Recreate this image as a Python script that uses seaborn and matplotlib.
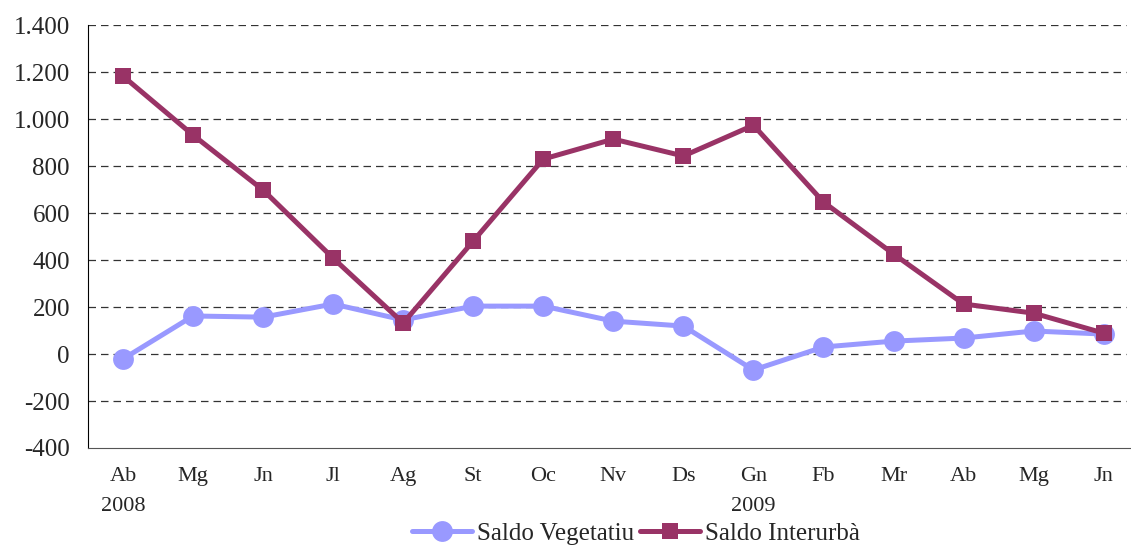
import matplotlib
matplotlib.use('Agg')
import matplotlib.pyplot as plt
import seaborn as sns
import pandas as pd
import numpy as np
from matplotlib.ticker import FuncFormatter

months = ['Ab\n2008', 'Mg', 'Jn', 'Jl', 'Ag', 'St', 'Oc', 'Nv', 'Ds',
          'Gn\n2009', 'Fb', 'Mr', 'Ab', 'Mg', 'Jn']
saldo_vegetatiu = [-21, 162, 157, 213, 145, 204, 204, 140, 119, -68, 30, 55, 68, 98, 85]
saldo_interurba = [1183, 932, 698, 408, 132, 481, 830, 915, 843, 974, 647, 426, 213, 174, 89]

sns.set_style('white')
plt.rcParams['font.family'] = ['Liberation Serif', 'DejaVu Serif']

x = np.arange(len(months))
df = pd.DataFrame({'x': x, 'veg': saldo_vegetatiu, 'inter': saldo_interurba})

fig = plt.figure(figsize=(11.31, 5.47), dpi=100)
# right edge runs just past the picture, like the original crop
ax = fig.add_axes([0.0778, 0.181, 0.929, 0.773])

for v in range(-200, 1401, 200):
    ax.axhline(v, xmax=0.9876, color='#333333', linestyle=(0, (6, 4)),
               linewidth=0.9, zorder=0)

sns.lineplot(data=df, x='x', y='veg', color='#9999FF', marker='o',
             markersize=15, markeredgewidth=0, linewidth=3.6,
             label='Saldo Vegetatiu', ax=ax)
sns.lineplot(data=df, x='x', y='inter', color='#993366', marker='s',
             markersize=12, markeredgewidth=0, linewidth=3.6,
             label='Saldo Interurbà', ax=ax)

ax.set_xlim(-0.5, len(months) - 0.5)
ax.set_ylim(-400, 1400)
ax.set_yticks(range(-400, 1401, 200))
ax.yaxis.set_major_formatter(FuncFormatter(lambda v, p: f'{int(v):,}'.replace(',', '.')))

# ticks between categories, labels at the centres
ax.set_xticks(np.arange(-0.5, len(months), 1.0))
ax.set_xticklabels([])
ax.set_xticks(x, minor=True)
ax.set_xticklabels(months, minor=True, fontsize=16, linespacing=1.75)
ax.tick_params(axis='x', which='major', length=6, direction='out', width=1, color='#555555')
ax.tick_params(axis='x', which='minor', length=0, pad=14)
ax.tick_params(axis='y', length=5, direction='out', width=1, labelsize=18, pad=8)

sns.despine(ax=ax, top=True, right=True)
ax.spines['left'].set_color('black')
ax.spines['bottom'].set_color('#555555')
ax.set_xlabel('')
ax.set_ylabel('')

ax.legend(loc='center', bbox_to_anchor=(0.5623, 0.025),
          bbox_transform=fig.transFigure, ncol=2, frameon=False,
          fontsize=18, handlelength=2.4, handletextpad=0.2,
          columnspacing=0.25, borderaxespad=0, borderpad=0)

fig.savefig('out.png', dpi=100)
